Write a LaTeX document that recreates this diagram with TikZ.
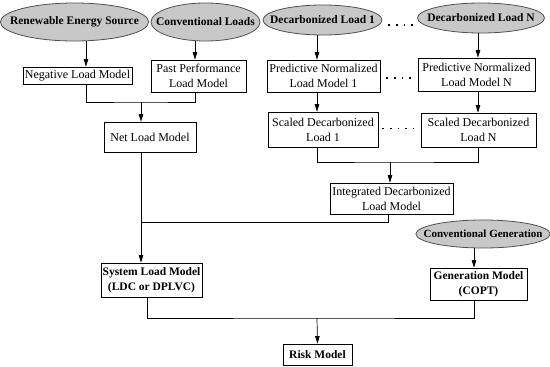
\documentclass[tikz,border=0pt]{standalone}
\usepackage{fontspec}
\setmainfont{Liberation Serif}
\usetikzlibrary{arrows.meta,shapes.geometric}
\definecolor{srcfill}{RGB}{200,200,200}
\definecolor{srcline}{RGB}{80,80,80}

\begin{document}
\begin{tikzpicture}[x=1pt,y=-1pt,
  src/.style={ellipse,draw=srcline,fill=srcfill,line width=0.8pt,inner xsep=-12pt,inner ysep=0pt,
    font=\fontsize{11.5}{13}\selectfont\bfseries},
  blk/.style={rectangle,draw,line width=0.7pt,inner sep=1pt,align=center,
    font=\fontsize{12}{15}\selectfont},
  bblk/.style={blk,font=\fontsize{11.5}{15}\selectfont\bfseries},
  arr/.style={-{Triangle[length=7.5pt,width=4.5pt]},line width=0.7pt},
  dots/.style={line width=1.6pt,dash pattern=on 1.6pt off 6pt}]
  \useasboundingbox (0,0) rectangle (550,367);
  % sources
  \node[src,minimum width=145pt,minimum height=38pt] (res) at (74.5,22) {Renewable Energy Source};
  \node[src,minimum width=109pt,minimum height=38pt] (conv) at (205.5,22) {Conventional Loads};
  \node[src,minimum width=119pt,minimum height=30pt] (dec1) at (322.5,20) {Decarbonized Load 1};
  \node[src,minimum width=127pt,minimum height=30pt] (decN) at (481,18) {Decarbonized Load N};
  \node[src,minimum width=130pt,minimum height=28pt,font=\fontsize{11}{12}\selectfont\bfseries]
    (cgen) at (483,234) {Conventional Generation};
  % models
  \node[blk,minimum width=109pt,minimum height=17pt] (neg) at (77.5,75.5) {Negative Load Model};
  \node[blk,minimum width=95pt,minimum height=32pt] (past) at (198.5,76) {Past Performance\\Load Model};
  \node[blk,minimum width=92pt,minimum height=30pt] (net) at (150,137) {Net Load Model};
  \node[blk,minimum width=113pt,minimum height=32pt] (pred1) at (323.5,76) {Predictive Normalized\\Load Model 1};
  \node[blk,minimum width=117pt,minimum height=33pt] (predN) at (476.5,74.5) {Predictive Normalized\\Load Model N};
  \node[blk,minimum width=110pt,minimum height=35pt] (sc1) at (323,129.5) {Scaled Decarbonized\\Load 1};
  \node[blk,minimum width=115pt,minimum height=34pt] (scN) at (478.5,130) {Scaled Decarbonized\\Load N};
  \node[blk,minimum width=123pt,minimum height=31pt] (integ) at (391.5,198.5) {Integrated Decarbonized\\Load Model};
  \node[bblk,minimum width=101pt,minimum height=34pt] (sys) at (151.5,280) {System Load Model\\(LDC or DPLVC)};
  \node[bblk,minimum width=97pt,minimum height=32pt] (gen) at (478.5,284) {Generation Model\\(COPT)};
  \node[bblk,minimum width=69pt,minimum height=21pt] (risk) at (317.5,354.5) {Risk Model};
  % line positions
  \coordinate (ra) at (86,0);
  \coordinate (cb) at (195,0);
  \coordinate (da) at (317,0);
  \coordinate (db) at (478,0);
  \coordinate (gx) at (474,0);
  \coordinate (sx) at (147,0);
  \coordinate (jn) at (141,102);
  \coordinate (jd) at (390,162);
  \coordinate (ji) at (388,222);
  \coordinate (jr) at (317,318);
  % connectors
  \draw[arr] (res.south -| ra) -- (neg.north -| ra);
  \draw[arr] (conv.south -| cb) -- (past.north -| cb);
  \draw[arr] (dec1.south -| da) -- (pred1.north -| da);
  \draw[arr] (decN.south -| db) -- (predN.north -| db);
  \draw[arr] (pred1.south -| da) -- (sc1.north -| da);
  \draw[arr] (predN.south -| db) -- (scN.north -| db);
  \draw[line width=0.7pt] (neg.south -| ra) |- (jn) -| (past.south -| cb);
  \draw[arr] (jn) -- (jn |- net.north);
  \draw[line width=0.7pt] (sc1.south -| da) |- (jd) -| (scN.south -| db);
  \draw[arr] (jd) -- (jd |- integ.north);
  \draw[arr] (net.south -| jn) -- (sys.north -| jn);
  \draw[line width=0.7pt] (integ.south -| ji) |- (jn |- ji);
  \draw[arr] (cgen.south -| gx) -- (gen.north -| gx);
  \draw[line width=0.7pt] (sys.south -| sx) |- (jr) -| (gen.south -| gx);
  \draw[arr] (jr) -- (risk.north);
  % dotted links
  \coordinate (d1) at ([yshift=-5pt]dec1.east);
  \coordinate (d2) at ([yshift=-2pt]pred1.east);
  \coordinate (d3) at ([yshift=1pt]sc1.east);
  \draw[dots,shorten <=6pt,shorten >=1pt] (d1) -- (d1 -| decN.west);
  \draw[dots,shorten <=6pt,shorten >=3pt] (d2) -- (d2 -| predN.west);
  \draw[dots,shorten <=4pt,shorten >=5pt] (d3) -- (d3 -| scN.west);
\end{tikzpicture}
\end{document}
